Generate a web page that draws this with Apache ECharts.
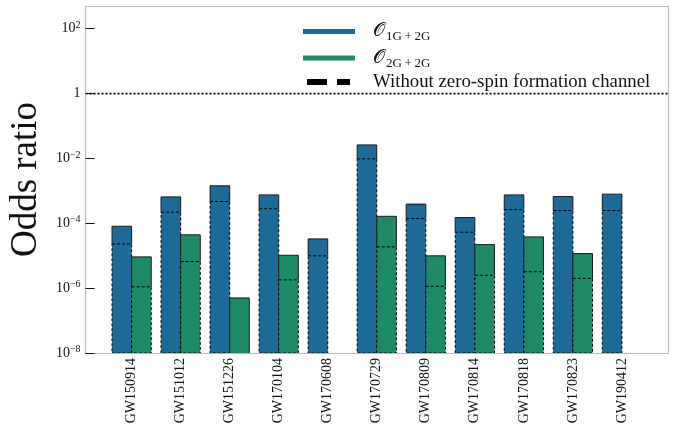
<!DOCTYPE html>
<html>
<head>
<meta charset="utf-8">
<script src="https://cdn.jsdelivr.net/npm/echarts@6/dist/echarts.min.js"></script>
<style>html,body{margin:0;padding:0;background:#fff}#c{width:676px;height:435px}</style>
</head>
<body>
<div id="c"></div>
<script>
const categories = ['GW150914','GW151012','GW151226','GW170104','GW170608','GW170729','GW170809','GW170814','GW170818','GW170823','GW190412'];
const odds1G       = [8.1e-5, 6.5e-4, 1.43e-3, 7.5e-4, 3.3e-5, 2.6e-2, 3.9e-4, 1.5e-4, 7.5e-4, 6.7e-4, 7.9e-4];
const odds1GNoZero = [2.3e-5, 2.2e-4, 4.7e-4, 2.8e-4, 9.9e-6, 9.7e-3, 1.4e-4, 5.3e-5, 2.65e-4, 2.47e-4, 2.47e-4];
const odds2G       = [9.2e-6, 4.4e-5, 5.0e-7, 1.03e-5, null, 1.64e-4, 9.9e-6, 2.2e-5, 3.8e-5, 1.16e-5, null];
const odds2GNoZero = [1.1e-6, 6.6e-6, null, 1.8e-6, null, 1.87e-5, 1.14e-6, 2.5e-6, 3.2e-6, 2.0e-6, null];
const yTicks = [1e-8, 1e-6, 1e-4, 1e-2, 1, 1e2];
const yMin = 1e-8, yMax = 500;
const refLevel = 1;

const BLUE = '#1d6a96', GREEN = '#1e8a68';
const FONT = 'Liberation Serif';
const L = v => Math.log10(v);
const yMinL = L(yMin);

function mkData(main, noZero) {
  return main.map((v, i) => v == null ? null : [i, L(v), noZero[i] == null ? '-' : L(noZero[i])]).filter(d => d);
}

function barRenderer(off0, off1, color) {
  return function (params, api) {
    const k = api.value(0), v = api.value(1), d = api.value(2);
    const pTop = api.coord([k + off0, v]);
    const pBot = api.coord([k + off1, yMinL]);
    const x0 = pTop[0], x1 = pBot[0], yt = pTop[1], yb = pBot[1];
    const children = [{
      type: 'rect',
      shape: { x: x0, y: yt, width: x1 - x0, height: yb - yt },
      style: { fill: color, stroke: null }
    }];
    let ySolidEnd = yb;
    if (!isNaN(d)) {
      const yd = api.coord([k, d])[1];
      ySolidEnd = yd;
      children.push({
        type: 'rect',
        shape: { x: x0, y: yd, width: x1 - x0, height: yb - yd },
        style: { fill: 'none', stroke: '#000', lineWidth: 1, lineDash: [3, 2] }
      });
    }
    children.push({
      type: 'polyline',
      shape: { points: [[x0, ySolidEnd], [x0, yt], [x1, yt], [x1, ySolidEnd]] },
      style: { fill: 'none', stroke: '#1a1a1a', lineWidth: 1 }
    });
    return { type: 'group', children: children };
  };
}

const sub = { 'O1': '1G\u2009+\u20092G', 'O2': '2G\u2009+\u20092G' };
const NAME1 = '𝒪 1G+2G', NAME2 = '𝒪 2G+2G', NAME3 = 'Without zero-spin formation channel';
const FRAME = { show: true, onZero: false, lineStyle: { color: '#bcbcbc', width: 1.2 } };

const chart = echarts.init(document.getElementById('c'));
chart.setOption({
  animation: false,
  backgroundColor: '#fff',
  grid: { left: 77, right: 8, top: 6, bottom: 82, containLabel: false },
  xAxis: [{
    type: 'value', min: -0.94, max: 10.94, position: 'bottom', z: 10,
    splitLine: { show: false },
    axisLine: FRAME,
    axisTick: { show: false },
    axisLabel: {
      customValues: categories.map((c, i) => i),
      formatter: v => categories[Math.round(v)] || '',
      rotate: 90, margin: 5, fontFamily: FONT, fontSize: 14, color: '#111'
    }
  }, {
    type: 'value', min: 0, max: 1, position: 'top', z: 10,
    splitLine: { show: false }, axisTick: { show: false }, axisLabel: { show: false },
    axisLine: FRAME
  }],
  yAxis: [{
    type: 'value', min: yMinL, max: L(yMax), position: 'left', z: 10,
    name: 'Odds ratio', nameLocation: 'middle', nameGap: 40,
    nameTextStyle: { fontFamily: FONT, fontSize: 37, color: '#111' },
    splitLine: { show: false },
    axisLine: FRAME,
    axisTick: { show: true, inside: true, length: 9, customValues: yTicks.map(L), lineStyle: { color: '#111', width: 1 } },
    axisLabel: {
      customValues: yTicks.map(L), margin: 5,
      formatter: v => {
        const e = Math.round(v);
        if (e === 0) return '{b|1}';
        return '{b|10}{s|' + (e < 0 ? '\u2212' + (-e) : e) + '}';
      },
      rich: {
        b: { fontFamily: FONT, fontSize: 14, lineHeight: 17, color: '#111' },
        s: { fontFamily: FONT, fontSize: 10, lineHeight: 10, verticalAlign: 'top', color: '#111' }
      }
    }
  }, {
    type: 'value', min: 0, max: 1, position: 'right', z: 10,
    splitLine: { show: false }, axisTick: { show: false }, axisLabel: { show: false },
    axisLine: FRAME
  }],
  legend: [{
    orient: 'vertical', left: 303, top: 22, padding: 0, itemGap: 5,
    itemWidth: 52, itemHeight: 5, icon: 'rect', selectedMode: false,
    data: [NAME1, NAME2],
    formatter: name => '{o|𝒪}{s|' + (name === NAME1 ? sub.O1 : sub.O2) + '}',
    textStyle: {
      rich: {
        o: { fontFamily: FONT, fontSize: 19, lineHeight: 20, color: '#111', padding: [0, 0, 0, 13] },
        s: { fontFamily: FONT, fontSize: 13, lineHeight: 20, verticalAlign: 'bottom', color: '#111', padding: [0, 0, -2, 1] }
      }
    }
  }, {
    orient: 'vertical', left: 307, top: 72, padding: 0,
    itemWidth: 43, itemHeight: 6, selectedMode: false,
    data: [{ name: NAME3, icon: 'path://M0,0h20v6h-20z M30,0h13v6h-13z' }],
    textStyle: { fontFamily: FONT, fontSize: 18.8, lineHeight: 20, color: '#111', padding: [0, 0, 0, 18] }
  }],
  series: [{
    type: 'custom', name: NAME1, xAxisIndex: 0, yAxisIndex: 0,
    itemStyle: { color: BLUE },
    encode: { x: 0, y: 1 },
    renderItem: barRenderer(-0.4, 0, BLUE),
    data: mkData(odds1G, odds1GNoZero)
  }, {
    type: 'custom', name: NAME2, xAxisIndex: 0, yAxisIndex: 0,
    itemStyle: { color: GREEN },
    encode: { x: 0, y: 1 },
    renderItem: barRenderer(0, 0.4, GREEN),
    data: mkData(odds2G, odds2GNoZero)
  }, {
    type: 'custom', name: NAME3, xAxisIndex: 0, yAxisIndex: 0,
    itemStyle: { color: '#000' },
    renderItem: () => ({ type: 'group', children: [] }),
    data: []
  }, {
    type: 'line', xAxisIndex: 0, yAxisIndex: 0, symbol: 'none', silent: true, z: 5,
    lineStyle: { color: '#000', width: 1.8, type: [2, 2] },
    data: [[-0.94, L(refLevel)], [10.94, L(refLevel)]]
  }]
});
</script>
</body>
</html>
